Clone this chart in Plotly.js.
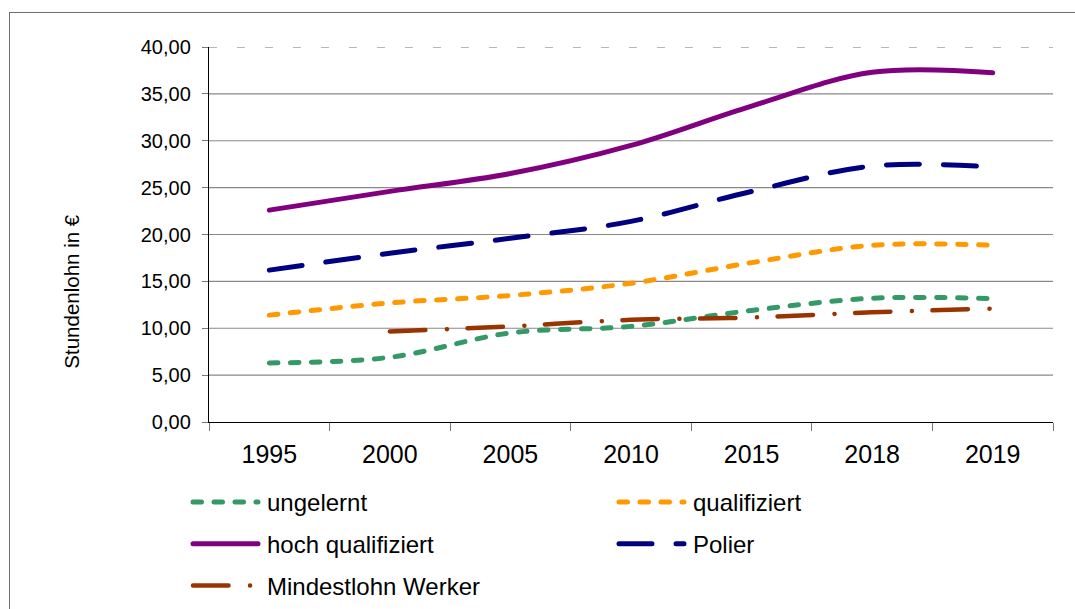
<!DOCTYPE html>
<html>
<head>
<meta charset="utf-8">
<script src="https://cdn.plot.ly/plotly-3.0.1.min.js"></script>
<style>
  html, body { margin: 0; padding: 0; background: #fff; overflow: hidden; }
  #wrap { position: relative; width: 1075px; height: 609px; overflow: hidden; }
  #frame { position: absolute; left: 9px; top: 12px; width: 1080px; height: 620px; border: 1px solid #6e6e6e; box-sizing: border-box; pointer-events: none; }
  #chart { position: absolute; left: 0; top: 0; width: 1075px; height: 609px; }
  #chart .scatterlayer path.js-line, #chart .legendlines path { stroke-linecap: round; stroke-linejoin: round; }
</style>
</head>
<body>
<div id="wrap">
  <div id="chart"></div>
  <div id="frame"></div>
</div>
<script>
// ---- data ----
const categories = ['1995', '2000', '2005', '2010', '2015', '2018', '2019'];
const ungelernt = [6.3, 6.9, 9.5, 10.2, 11.9, 13.2, 13.15];
const qualifiziert = [11.4, 12.7, 13.5, 14.8, 17.0, 18.85, 18.85];
const hochQualifiziert = [22.6, 24.6, 26.5, 29.5, 33.7, 37.3, 37.25];
const polier = [16.2, 18.0, 19.6, 21.4, 24.6, 27.3, 27.2];
const mindestlohnWerker = [null, 9.65, 10.2, 10.9, 11.15, 11.7, 12.1];
const yTicks = [0, 5, 10, 15, 20, 25, 30, 35, 40];
const yTitle = 'Stundenlohn in €';

const FONT = 'Arial, "Liberation Sans", sans-serif';

function tr(name, y, color, dash, legend, width) {
  return {
    type: 'scatter', mode: 'lines', name: name,
    x: categories, y: y,
    line: { color: color, width: width || 5, dash: dash, shape: 'spline', smoothing: 1 },
    connectgaps: false,
    legend: legend, legendgroup: name,
    hoverinfo: 'skip'
  };
}

const data = [
  tr('ungelernt', ungelernt, '#339966', '8.5px,12.5px', 'legend'),
  tr('hoch qualifiziert', hochQualifiziert, '#800080', 'solid', 'legend'),
  tr('Mindestlohn Werker', mindestlohnWerker, '#993300', '35.5px,21.5px,0.1px,20.5px', 'legend', 4.5),
  tr('qualifiziert', qualifiziert, '#FF9900', '8.5px,12.5px', 'legend2'),
  tr('Polier', polier, '#000080', '33px,24px', 'legend2')
];

// grid lines built from tick values (top one dashed)
const shapes = yTicks.filter(v => v > 0).map(v => ({
  type: 'line', layer: 'below', xref: 'paper', yref: 'y',
  x0: 0, x1: 1, y0: v, y1: v,
  line: v === yTicks[yTicks.length - 1]
    ? { color: '#a0a0a0', width: 1.5, dash: '8px,20px' }
    : { color: '#888888', width: 1.2 }
}));

const legendBase = {
  orientation: 'v', xanchor: 'left', yanchor: 'top',
  font: { family: FONT, size: 24, color: '#000' },
  bgcolor: 'rgba(0,0,0,0)', borderwidth: 0,
  tracegroupgap: 7.5, itemwidth: 71, itemclick: false, itemdoubleclick: false
};

const layout = {
  width: 1075, height: 609,
  margin: { l: 209, r: 22, t: 47, b: 187, pad: 0, autoexpand: false },
  paper_bgcolor: 'rgba(0,0,0,0)', plot_bgcolor: 'rgba(0,0,0,0)',
  separators: ',.',
  font: { family: FONT, color: '#000' },
  showlegend: true,
  xaxis: {
    type: 'category', range: [-0.5, 6.5],
    tickson: 'boundaries', ticks: 'outside', ticklen: 8, tickcolor: '#777', tickwidth: 1,
    showline: true, linecolor: '#000', linewidth: 1.2,
    showgrid: false, zeroline: false,
    ticklabelstandoff: 10,
    tickfont: { family: FONT, size: 25, color: '#000' }
  },
  yaxis: {
    range: [0, 40], tickvals: yTicks, tickformat: '.2f',
    ticks: 'outside', ticklen: 6, tickcolor: '#777', tickwidth: 1,
    showline: true, linecolor: '#000', linewidth: 1.2,
    showgrid: false, zeroline: false,
    ticklabelstandoff: 7,
    tickfont: { family: FONT, size: 20, color: '#000' }
  },
  shapes: shapes,
  annotations: [{
    text: yTitle, textangle: -90, showarrow: false,
    xref: 'paper', yref: 'paper', x: -0.1627, y: 0.3467,
    xanchor: 'center', yanchor: 'middle',
    font: { family: FONT, size: 20.5, color: '#000' }
  }],
  legend: Object.assign({}, legendBase, { x: (186 - 209) / 844, y: (422 - 480) / 375 }),
  legend2: Object.assign({}, legendBase, { x: (612 - 209) / 844, y: (422 - 480) / 375 })
};

Plotly.newPlot('chart', data, layout, { staticPlot: true, displayModeBar: false }).then(function (gd) {
  // lengthen the legend line samples to match the reference key width
  gd.querySelectorAll('.legendlines path').forEach(function (p) {
    p.setAttribute('d', 'M7,0h65');
  });
});
</script>
</body>
</html>
